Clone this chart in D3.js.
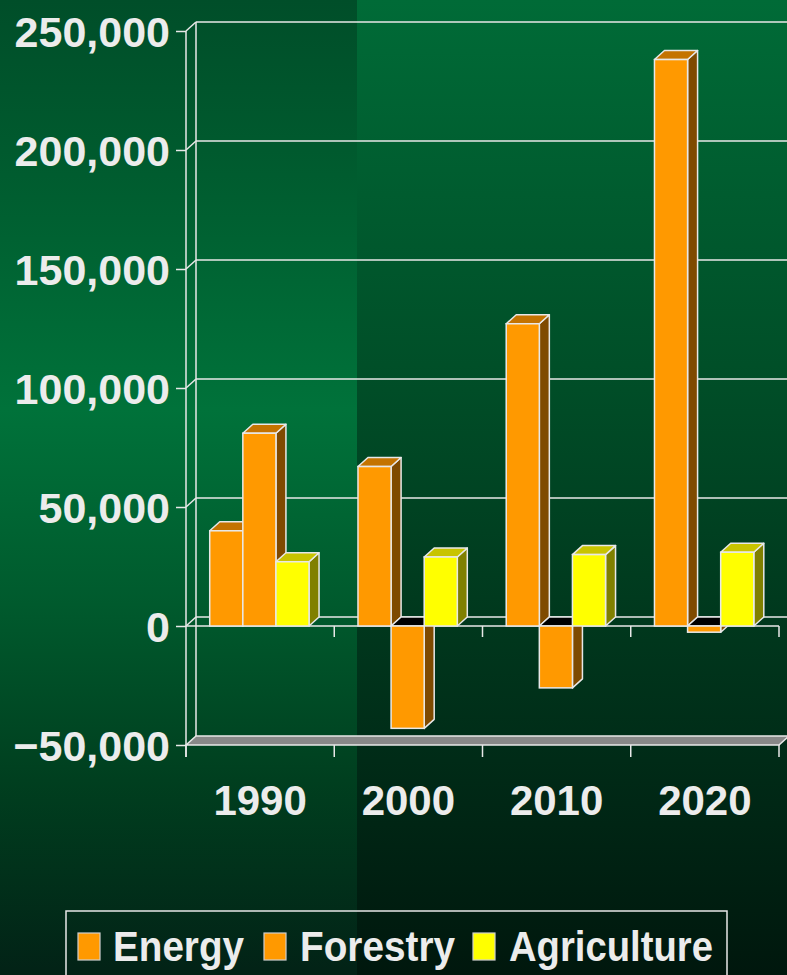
<!DOCTYPE html>
<html>
<head>
<meta charset="utf-8">
<script src="https://cdn.jsdelivr.net/npm/d3@7"></script>
<style>
html,body{margin:0;padding:0;background:#003018;}
svg{display:block;}
</style>
</head>
<body>
<svg id="chart" width="787" height="975"></svg>
<script>
const categories = ["1990", "2000", "2010", "2020"];
const seriesNames = ["Energy", "Forestry", "Agriculture"];
const energy = [40000, 67000, 127000, 238000];
const forestry = [81000, -43000, -26000, -2600];
const agriculture = [27000, 29000, 30000, 31000];
const yTicks = [-50000, 0, 50000, 100000, 150000, 200000, 250000];

const seriesValues = [energy, forestry, agriculture];
const faceColors = {
  Energy: {front: "#ff9900", top: "#c47300", side: "#7f4a00"},
  Forestry: {front: "#ff9900", top: "#c47300", side: "#7f4a00"},
  Agriculture: {front: "#ffff00", top: "#c8c400", side: "#808000"}
};

const W = 787, H = 975;
const svg = d3.select("#chart");
const defs = svg.append("defs");
const lg = defs.append("linearGradient").attr("id", "bgL").attr("x1", 0).attr("y1", 0).attr("x2", 0).attr("y2", 1);
[[0, "#004e29"], [0.18, "#005c2f"], [0.42, "#00723a"], [0.62, "#005a2d"], [0.8, "#003f1f"], [1, "#022216"]]
  .forEach(([o, c]) => lg.append("stop").attr("offset", o).attr("stop-color", c));
const rg = defs.append("linearGradient").attr("id", "bgR").attr("x1", 0).attr("y1", 0).attr("x2", 0).attr("y2", 1);
[[0, "#006b37"], [0.4, "#004d27"], [0.78, "#002b17"], [1, "#00170d"]]
  .forEach(([o, c]) => rg.append("stop").attr("offset", o).attr("stop-color", c));

svg.append("rect").attr("x", 0).attr("y", 0).attr("width", 357).attr("height", H).attr("fill", "url(#bgL)");
svg.append("rect").attr("x", 357).attr("y", 0).attr("width", W - 357).attr("height", H).attr("fill", "url(#bgR)");

const x0 = 186, x1End = 779;
const DX = 10, DY = -9;
const lineCol = "#e8e8e8";
const textCol = "#ececec";
const font = "'Liberation Sans', Arial, sans-serif";

const y = d3.scaleLinear().domain([-50000, 250000]).range([745, 31]);
const x = d3.scaleBand().domain(categories).range([x0, x1End]).padding(0);
const xs = d3.scaleBand().domain(seriesNames).range([x.bandwidth() * 0.16, x.bandwidth() * 0.83]).padding(0);

const g = svg.append("g");

// back wall gridlines
yTicks.forEach(t => {
  if (t === -50000) return;
  g.append("line").attr("x1", x0 + DX).attr("x2", W + 5).attr("y1", y(t) + DY).attr("y2", y(t) + DY)
    .attr("stroke", lineCol).attr("stroke-width", 1.5);
  g.append("line").attr("x1", x0).attr("x2", x0 + DX).attr("y1", y(t)).attr("y2", y(t) + DY)
    .attr("stroke", lineCol).attr("stroke-width", 1.5);
});
// back vertical axis
g.append("line").attr("x1", x0 + DX).attr("x2", x0 + DX).attr("y1", y(250000) + DY).attr("y2", y(-50000) + DY)
  .attr("stroke", lineCol).attr("stroke-width", 1.5);

// floor slab
g.append("polygon")
  .attr("points", [[x0, y(-50000)], [x1End, y(-50000)], [x1End + DX, y(-50000) + DY], [x0 + DX, y(-50000) + DY]].map(p => p.join(",")).join(" "))
  .attr("fill", "#888888").attr("stroke", lineCol).attr("stroke-width", 1.5);

// front zero line and ticks
g.append("line").attr("x1", x0).attr("x2", x1End).attr("y1", y(0)).attr("y2", y(0))
  .attr("stroke", lineCol).attr("stroke-width", 1.5);
const boundaries = categories.map(c => x(c)).concat([x1End]);
boundaries.forEach(bx => {
  if (bx > x0) g.append("line").attr("x1", bx).attr("x2", bx).attr("y1", y(0)).attr("y2", y(0) + 11)
    .attr("stroke", lineCol).attr("stroke-width", 1.5);
  g.append("line").attr("x1", bx).attr("x2", bx).attr("y1", y(-50000)).attr("y2", y(-50000) + 12)
    .attr("stroke", lineCol).attr("stroke-width", 1.5);
});

// y axis (front)
const yAxis = d3.axisLeft(y).tickValues(yTicks).tickFormat(d3.format(",")).tickSize(10).tickSizeOuter(0).tickPadding(6);
const ya = svg.append("g").attr("transform", `translate(${x0},0)`).call(yAxis);
ya.select(".domain").remove();
ya.selectAll(".tick line").attr("stroke", lineCol).attr("stroke-width", 1.5);
ya.selectAll(".tick text").attr("fill", textCol).attr("font-family", font).attr("font-weight", "bold")
  .attr("font-size", 43).attr("dy", "0.36em");
svg.append("line").attr("x1", x0).attr("x2", x0).attr("y1", y(250000)).attr("y2", y(-50000) + 12)
  .attr("stroke", lineCol).attr("stroke-width", 1.5);

// x axis labels
const xAxis = d3.axisBottom(x).tickSize(0).tickPadding(0);
const xa = svg.append("g").attr("transform", `translate(0,${y(-50000)})`).call(xAxis);
xa.select(".domain").remove();
xa.selectAll(".tick text").attr("fill", textCol).attr("font-family", font).attr("font-weight", "bold")
  .attr("font-size", 42).attr("y", 70).attr("dy", 0);

// bars
const bars = svg.append("g");
categories.forEach((c, ci) => {
  seriesNames.forEach((s, si) => {
    const v = seriesValues[si][ci];
    const col = faceColors[s];
    const bx = x(c) + xs(s);
    const bw = xs.bandwidth();
    const yt = y(Math.max(v, 0)), yb = y(Math.min(v, 0));
    const gb = bars.append("g");
    // side face
    gb.append("polygon")
      .attr("points", [[bx + bw, yt], [bx + bw + DX, yt + DY], [bx + bw + DX, yb + DY], [bx + bw, yb]].map(p => p.join(",")).join(" "))
      .attr("fill", col.side).attr("stroke", lineCol).attr("stroke-width", 1.5).attr("stroke-linejoin", "round");
    // top face
    gb.append("polygon")
      .attr("points", [[bx, yt], [bx + bw, yt], [bx + bw + DX, yt + DY], [bx + DX, yt + DY]].map(p => p.join(",")).join(" "))
      .attr("fill", v >= 0 ? col.top : "#000000").attr("stroke", lineCol).attr("stroke-width", 1.5).attr("stroke-linejoin", "round");
    // front face
    gb.append("rect").attr("x", bx).attr("y", yt).attr("width", bw).attr("height", Math.max(yb - yt, 0.5))
      .attr("fill", col.front).attr("stroke", lineCol).attr("stroke-width", 1.5);
  });
});

// legend
const leg = svg.append("g");
leg.append("rect").attr("x", 66).attr("y", 911).attr("width", 661).attr("height", 90)
  .attr("fill", "none").attr("stroke", lineCol).attr("stroke-width", 1.5);
const legendItems = [
  {name: "Energy", sx: 78, tx: 113, tw: 131},
  {name: "Forestry", sx: 264, tx: 300, tw: 155},
  {name: "Agriculture", sx: 473, tx: 509, tw: 204}
];
legendItems.forEach(it => {
  leg.append("rect").attr("x", it.sx).attr("y", 933).attr("width", 22).attr("height", 27)
    .attr("fill", faceColors[it.name].front).attr("stroke", "#cfcfcf").attr("stroke-width", 1.2);
  leg.append("text").attr("x", it.tx).attr("y", 961).text(it.name)
    .attr("fill", textCol).attr("font-family", font).attr("font-weight", "bold").attr("font-size", 42)
    .attr("textLength", it.tw).attr("lengthAdjust", "spacingAndGlyphs");
});
</script>
</body>
</html>
